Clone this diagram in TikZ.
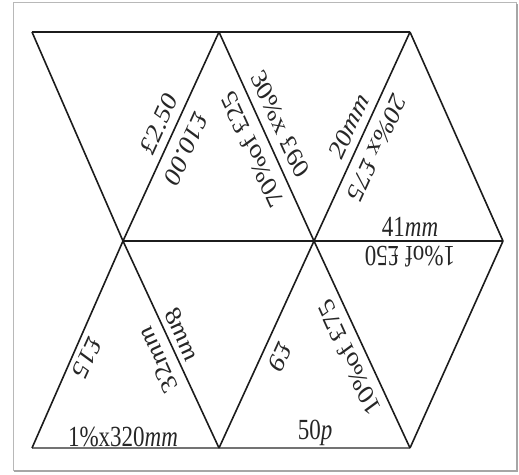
\documentclass[tikz,border=0pt]{standalone}
\usepackage{fontspec}
\setmainfont{Liberation Serif}
\usetikzlibrary{calc}
\definecolor{TileInk}{HTML}{1C1C1C}
\definecolor{FrameGray}{HTML}{B8B8B8}

\tikzset{
  tileedge/.style={draw=TileInk, line width=1.6pt, line join=round},
  rowedge/.style={draw=TileInk, line width=2.6pt},
  baseedge/.style={draw=black!55, line width=1.3pt},
  tilelabel/.style={inner sep=0pt, text=black!85, font=\fontsize{23}{26}\selectfont, yscale=1.27}
}

\begin{document}
\begin{tikzpicture}[x=1pt,y=1pt]
  \useasboundingbox (0,0) rectangle (519,474);
  \draw[FrameGray, line width=1pt] (13,4) rectangle (516,471);
  \draw[black!35, line width=1.2pt] (14,3) -- (517,3) -- (517,470);

  % corners of the tiles
  \coordinate (A) at (32,442);
  \coordinate (B) at (219,442);
  \coordinate (C) at (410,442);
  \coordinate (D) at (123,233);
  \coordinate (E) at (314,233);
  \coordinate (F) at (503,233);
  \coordinate (G) at (32,26);
  \coordinate (H) at (219,26);
  \coordinate (I) at (410,26);

  \draw[rowedge] (A) -- (C);
  \draw[rowedge] (D) -- (F);
  \draw[baseedge] (G) -- (I);
  \draw[tileedge] (A) -- (D) -- (G);
  \draw[tileedge] (B) -- (D) -- (H);
  \draw[tileedge] (B) -- (E) -- (H);
  \draw[tileedge] (C) -- (E) -- (I);
  \draw[tileedge] (C) -- (F) -- (I);

  % top row
  \node[tilelabel, rotate=60] (twofifty) at (159,350) {£2.50};
  \node[tilelabel, rotate=240] (tenpounds) at (186,325) {£10.00};
  \node[tilelabel, rotate=-60] (thirtypc) at (280,350) {30\%x £60};
  \node[tilelabel, rotate=120] (seventypc) at (252,324) {70\%of £25};
  \node[tilelabel, rotate=60] (twentymm) at (349,348) {20\textit{mm}};
  \node[tilelabel, rotate=240] (twentypc) at (377,326) {20\%x £75};
  \node[tilelabel] (fortyonemm) at (410,247) {41\textit{mm}};
  \node[tilelabel, rotate=180] (onepcfifty) at (410,217) {1\%of £50};

  % bottom row
  \node[tilelabel, rotate=240] (fifteen) at (87,116) {£15};
  \node[tilelabel, rotate=120] (thirtytwomm) at (158,114) {32\textit{mm}};
  \node[tilelabel, rotate=-60] (eightmm) at (182,140) {8\textit{mm}};
  \node[tilelabel] (onepcmm) at (123,37) {1\%x320\textit{mm}};
  \node[tilelabel, rotate=240] (ninepounds) at (280,117) {£9};
  \node[tilelabel, rotate=120] (tenpc) at (349,116) {10\%of £75};
  \node[tilelabel] (fiftyp) at (315,41) {50\textit{p}};
\end{tikzpicture}
\end{document}
